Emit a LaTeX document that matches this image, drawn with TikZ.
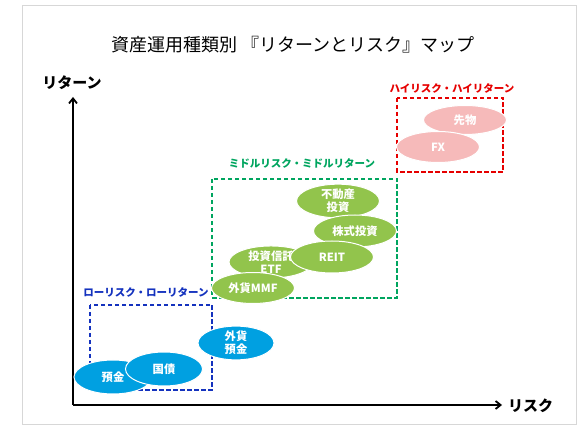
\documentclass[tikz,border=0pt]{standalone}
\usepackage{fontspec}
\setmainfont{Noto Sans CJK JP}
\usetikzlibrary{positioning, arrows.meta, shapes.geometric}
\definecolor{mapblue}{RGB}{0,160,225}
\definecolor{mapgreen}{RGB}{146,196,76}
\definecolor{mappink}{RGB}{246,186,186}
\definecolor{lowblue}{RGB}{20,50,190}
\definecolor{midgreen}{RGB}{0,165,95}
\definecolor{highred}{RGB}{230,0,0}
\definecolor{framegray}{RGB}{215,215,215}

\begin{document}
\begin{tikzpicture}[x=1pt, y=-1pt,
    asset/.style={ellipse, draw=white, line width=1pt, minimum width=83pt, minimum height=32pt, inner sep=0pt, text=white, align=center, font=\fontsize{11.3}{13}\selectfont\bfseries},
    zone/.style={line width=1.6pt, dash pattern=on 4.5pt off 2.5pt},
    zonelabel/.style={font=\fontsize{10.5}{12}\selectfont\bfseries},
    axislabel/.style={font=\fontsize{15}{16}\selectfont\bfseries, inner sep=0pt},
    axisline/.style={line width=1.8pt, -{Straight Barb[length=5pt, width=8pt]}}]
    \useasboundingbox (0,0) rectangle (587,435);
    % Frame
    \draw[framegray, line width=0.8pt] (22,5) rectangle (576,424);
    % Title
    \node[font=\fontsize{18}{20}\selectfont] (title) at (293,45) {資産運用種類別\ 『リターンとリスク』マップ};
    % Axes
    \coordinate (orig) at (73,405);
    \coordinate (ytip) at (73,97);
    \coordinate (xtip) at (502,405);
    \draw[axisline] (orig) -- (ytip);
    \draw[axisline] (orig) -- (xtip);
    \node[axislabel] (ret) at (72,83) {リターン};
    \node[axislabel, anchor=west] (risk) at (508,406) {リスク};
    % Zones
    \draw[zone, lowblue] (90,305) rectangle (212,390);
    \node[zonelabel, text=lowblue] (lowlbl) at (146,292) {ローリスク・ローリターン};
    \draw[zone, midgreen] (212,179) rectangle (397,298);
    \node[zonelabel, text=midgreen] (midlbl) at (302,163) {ミドルリスク・ミドルリターン};
    \draw[zone, highred] (397,98) rectangle (503,172);
    \node[zonelabel, text=highred] (highlbl) at (452,88) {ハイリスク・ハイリターン};
    % Low risk assets
    \node[asset, fill=mapblue, minimum width=78pt, minimum height=34pt] (yokin) at (113,377) {預金};
    \node[asset, fill=mapblue, minimum width=77pt, minimum height=34pt] (kokusai) at (164,369) {国債};
    \node[asset, fill=mapblue, minimum width=76pt, minimum height=33pt] (gaika) at (236,343) {外貨\\預金};
    % Middle risk assets
    \node[asset, fill=mapgreen, minimum height=33pt] (fudosan) at (338,201) {不動産\\投資};
    \node[asset, fill=mapgreen] (kabu) at (355,231) {株式投資};
    \node[asset, fill=mapgreen, minimum width=84pt, minimum height=31pt] (shintaku) at (271,262) {投資信託\\ETF};
    \node[asset, fill=mapgreen] (reit) at (332,257) {REIT};
    \node[asset, fill=mapgreen, minimum height=31pt] (mmf) at (253,288) {外貨MMF};
    % High risk assets
    \node[asset, fill=mappink, minimum height=29pt] (sakimono) at (465,120) {先物};
    \node[asset, fill=mappink, minimum height=31pt] (fx) at (438,147) {FX};
\end{tikzpicture}
\end{document}
